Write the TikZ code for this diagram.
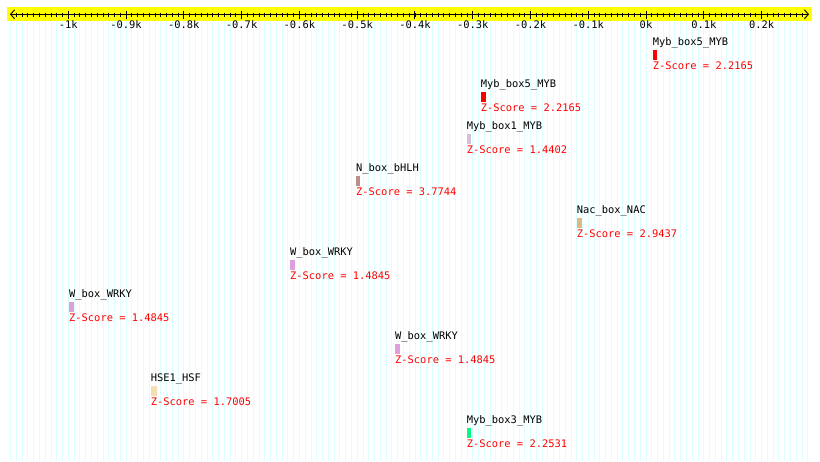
\documentclass[tikz,border=0pt]{standalone}
\usepackage{fontspec}
\setmonofont{DejaVu Sans Mono}
\usepackage{xcolor}
\usetikzlibrary{arrows.meta,positioning}

\definecolor{bandyellow}{RGB}{255,255,0}
\definecolor{stripecyan}{RGB}{220,255,255}
\definecolor{mybred}{RGB}{255,0,0}
\definecolor{mybthistle}{RGB}{216,191,216}
\definecolor{nboxbrown}{RGB}{188,143,143}
\definecolor{nacwood}{RGB}{222,184,135}
\definecolor{wboxplum}{RGB}{221,160,221}
\definecolor{hsewheat}{RGB}{245,222,179}
\definecolor{mybgreen}{RGB}{0,250,130}

\begin{document}
\begin{tikzpicture}[
  x=1pt, y=-1pt,
  txt/.style={font=\ttfamily\fontsize{10.4}{12}\selectfont, inner sep=0pt, text height=7pt, text depth=2pt},
  tflab/.style={txt, anchor=west},
  score/.style={txt, text=red},
  motif/.style={inner sep=0pt, minimum height=10pt},
  stripe/.style={stripecyan, line width=0.8pt},
  axisline/.style={{Straight Barb[length=4pt,width=9pt]}-{Straight Barb[length=4pt,width=9pt]}, line width=0.9pt}
]
\useasboundingbox[fill=white] (0,0) rectangle (820,461);

% background stripes, one per 10 bp
\foreach \i in {-110,...,28} {
  \draw[stripe] (646+\i*5.777,21) -- ++(0,440);
}

% ruler
\fill[bandyellow] (7,7) rectangle (812,21);
\coordinate (axL) at (10,14.3);
\coordinate (axR) at (809,14.3);
\draw[axisline] (axL) -- (axR);
\foreach \i in {-109,...,27} {
  \draw[line width=0.8pt] (646+\i*5.777,12.5) -- ++(0,4);
}
\foreach \n/\lab in {-10/-1k,-9/-0.9k,-8/-0.8k,-7/-0.7k,-6/-0.6k,-5/-0.5k,-4/-0.4k,
                     -3/-0.3k,-2/-0.2k,-1/-0.1k,0/0k,1/0.1k,2/0.2k} {
  \draw[line width=0.9pt] (646+\n*57.77,10.5) -- ++(0,8);
  \node[txt] (t\n) at (646+\n*57.77,25.5) {\lab};
}

% motif hits
\foreach \i/\x/\y/\name/\col/\w/\z in {
  1/652.7/43/Myb\_box5\_MYB/mybred/4.5/2.2165,
  2/480.7/85/Myb\_box5\_MYB/mybred/5/2.2165,
  3/466.7/127/Myb\_box1\_MYB/mybthistle/4.3/1.4402,
  4/356/169/N\_box\_bHLH/nboxbrown/4/3.7744,
  5/576.7/211/Nac\_box\_NAC/nacwood/5/2.9437,
  6/290/253/W\_box\_WRKY/wboxplum/5/1.4845,
  7/69/295/W\_box\_WRKY/wboxplum/5/1.4845,
  8/395/337/W\_box\_WRKY/wboxplum/5/1.4845,
  9/150.7/379/HSE1\_HSF/hsewheat/6/1.7005,
  10/466.7/421/Myb\_box3\_MYB/mybgreen/4.3/2.2531} {
  \node[tflab] (l\i) at (\x,\y) {\name};
  \node[motif, fill=\col, minimum width=\w pt, below right=1.8pt and 0pt of l\i.south west] (b\i) {};
  \node[score, below right=2pt and 0pt of b\i.south west] (z\i) {Z-Score = \z};
}
\end{tikzpicture}
\end{document}
